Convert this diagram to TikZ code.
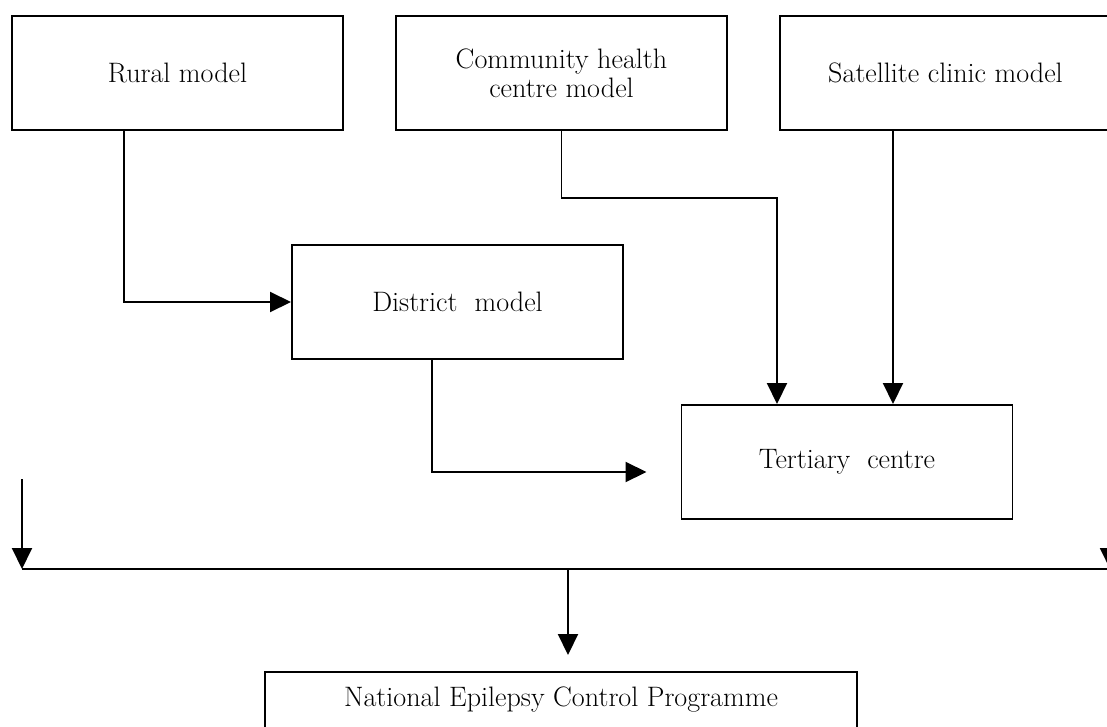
\documentclass[tikz,border=0pt]{standalone}
\usepackage{tikz}
\usetikzlibrary{arrows.meta, positioning}

\tikzset{
    box/.style={draw, line width=1.4pt, minimum width=8.275cm, minimum height=2.85cm,
        inner sep=0pt, align=center, font=\fontsize{20}{20.5}\selectfont},
    flow/.style={line width=1.4pt, -{Triangle[length=0.525cm, width=0.5cm]}}
}

\begin{document}
\begin{tikzpicture}
    % Frame of the picture (the figure is cut at its right and bottom edges)
    \clip (0,0) rectangle (27.675,-18.15);
    \fill[white] (0,0) rectangle (27.675,-18.15);

    % Top row of models
    \node[box] (rural) at (4.4375,-1.825) {Rural model};
    \node[box] (community) at (14.0375,-1.825) {Community health\\centre model};
    \node[box] (satellite) at (23.6375,-1.825) {Satellite clinic model};

    % Middle level
    \node[box] (district) at (11.4375,-7.55) {District\ \ model};
    \node[box] (tertiary) at (21.175,-11.55) {Tertiary\ \ centre};

    % Programme at the bottom
    \node[box, minimum width=14.8cm, minimum height=1.4cm] (necp) at (14.025,-17.5)
        {National Epilepsy Control Programme};

    % Ends of the common line
    \coordinate (leftin) at (0.55,-11.975);
    \coordinate (busleft) at (0.55,-14.225);
    \coordinate (rightin) at (27.75,-11.975);
    \coordinate (busright) at (27.75,-14.225);

    % Connectors
    \draw[flow] ([xshift=-1.3375cm]rural.south) |- (district.west);
    \draw[flow] (community.south) -- ++(0,-1.675) -| ([xshift=-1.75cm]tertiary.north);
    \draw[flow] ([xshift=1.15cm]tertiary.north |- satellite.south) -- ([xshift=1.15cm]tertiary.north);
    \draw[flow] ([xshift=-0.6375cm]district.south) |- ([xshift=-0.85cm, yshift=-0.25cm]tertiary.west);

    \draw[flow] (leftin) -- (busleft);
    \draw[flow] (rightin) -- (busright);
    \draw[line width=1.4pt] (busleft) -- (busright);
    \draw[flow] ([xshift=0.175cm]necp.north |- busleft) -- ([xshift=0.175cm, yshift=0.4cm]necp.north);
\end{tikzpicture}
\end{document}
